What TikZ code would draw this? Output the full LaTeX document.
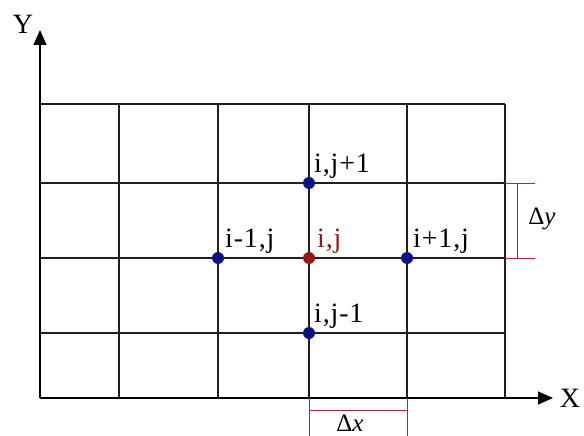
\documentclass[tikz,border=0pt]{standalone}
\usepackage{fontspec}
\setmainfont{Liberation Serif}
\newfontfamily\lblfont[LetterSpace=3]{Liberation Serif}
\usetikzlibrary{arrows.meta}
\definecolor{dotblue}{RGB}{10,20,130}
\definecolor{dotred}{RGB}{150,25,25}
\definecolor{brk}{RGB}{165,45,55}
\tikzset{
  gridline/.style={line width=1.3pt, black!88},
  axisline/.style={line width=1.5pt, -{Triangle[length=15pt,width=13pt]}},
  bracket/.style={line width=0.9pt, brk},
  dot/.style={circle, fill=#1, inner sep=0pt, minimum size=12pt},
  lbl/.style={font=\lblfont\fontsize{28}{30}\selectfont, anchor=base west, inner sep=0pt},
  axlbl/.style={font=\fontsize{28}{30}\selectfont, inner sep=0pt},
  dlbl/.style={font=\fontsize{25}{26}\selectfont, inner sep=0pt},
}
\begin{document}
\begin{tikzpicture}[x=1pt,y=-1pt]
\useasboundingbox (0,0) rectangle (584,436);
% grid coordinates
\foreach \n/\x in {0/40,1/119,2/218,3/309,4/407,5/505}{
  \coordinate (ct\n) at (\x,104);
  \coordinate (cb\n) at (\x,398);
}
\foreach \n/\y in {0/104,1/183,2/258,3/333,4/398}{
  \coordinate (rl\n) at (40,\y);
  \coordinate (rr\n) at (505,\y);
}
\foreach \n in {1,...,5}{ \draw[gridline] (ct\n) -- (cb\n); }
\foreach \n in {0,...,3}{ \draw[gridline] (rl\n) -- (rr\n); }
% axes
\coordinate (O) at (40,398);
\coordinate (Ytip) at (40,30);
\coordinate (Xtip) at (553,398);
\draw[axisline] (O) -- (Ytip);
\draw[axisline] (O) -- (Xtip);
\node[axlbl] (ylab) at (23,24) {Y};
\node[axlbl] (xlab) at (570,398) {X};
% dots
\node[dot=dotblue] (w) at (218,258) {};
\node[dot=dotred]  (c) at (309,258) {};
\node[dot=dotblue] (e) at (407,258) {};
\node[dot=dotblue] (n) at (309,183) {};
\node[dot=dotblue] (s) at (309,333) {};
% labels
\node[lbl] (ln) at (314,172) {i,j+1};
\node[lbl] (lw) at (225,247) {i-1,j};
\node[lbl, text=dotred] (lc) at (317,247) {i,j};
\node[lbl] (le) at (413,247) {i+1,j};
\node[lbl] (ls) at (314,322) {i,j-1};
% delta y bracket
\coordinate (dy1a) at (505,183); \coordinate (dy1b) at (535,183);
\coordinate (dy2a) at (505,258); \coordinate (dy2b) at (535,258);
\coordinate (dym1) at (517,183); \coordinate (dym2) at (517,258);
\draw[bracket] (dy1a) -- (dy1b);
\draw[bracket] (dy2a) -- (dy2b);
\draw[bracket] (dym1) -- (dym2);
\node[dlbl] (dylab) at (542,219) {Δ\textit{y}};
% delta x bracket
\coordinate (dx1a) at (309,398); \coordinate (dx1b) at (309,436);
\coordinate (dx2a) at (407,398); \coordinate (dx2b) at (407,436);
\coordinate (dxm1) at (309,410); \coordinate (dxm2) at (407,410);
\draw[bracket] (dx1a) -- (dx1b);
\draw[bracket] (dx2a) -- (dx2b);
\draw[bracket] (dxm1) -- (dxm2);
\node[dlbl, anchor=base] (dxlab) at (350,431) {Δ\textit{x}};
\end{tikzpicture}
\end{document}
